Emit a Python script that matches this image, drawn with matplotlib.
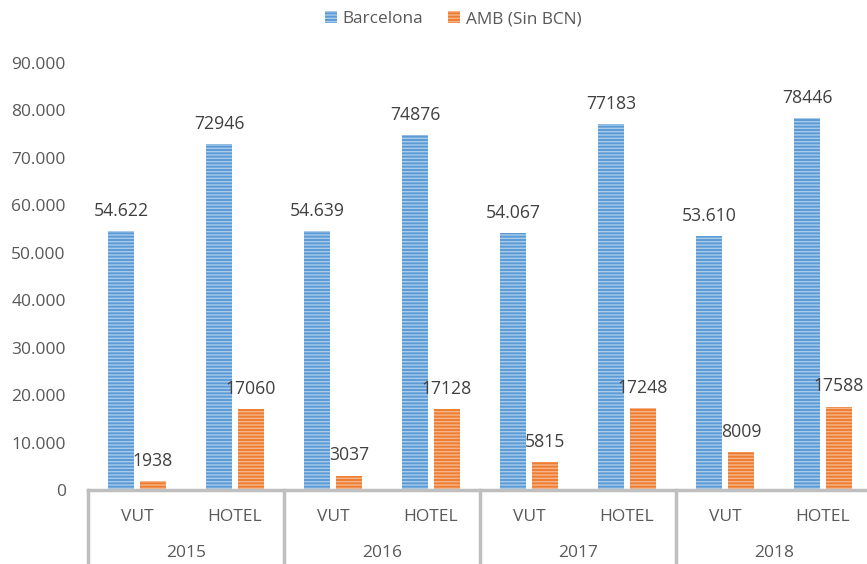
import matplotlib
matplotlib.use("Agg")
import matplotlib.pyplot as plt
from matplotlib.patches import Patch
from matplotlib.ticker import FuncFormatter
import matplotlib.transforms as mtransforms

years = ["2015", "2016", "2017", "2018"]
types = ["VUT", "HOTEL"]
barcelona = [54622, 72946, 54639, 74876, 54067, 77183, 53610, 78446]
amb = [1938, 17060, 3037, 17128, 5815, 17248, 8009, 17588]
barcelona_labels = ["54.622", "72946", "54.639", "74876", "54.067", "77183", "53.610", "78446"]
amb_labels = ["1938", "17060", "3037", "17128", "5815", "17248", "8009", "17588"]
yticks = list(range(0, 90001, 10000))

plt.rcParams['font.family'] = ['Open Sans', 'DejaVu Sans']
plt.rcParams['hatch.linewidth'] = 1.0

W, H = 867, 564
fig = plt.figure(figsize=(W / 100, H / 100), dpi=100)
ax = fig.add_axes([88 / W, 74 / H, 784 / W, 427 / H])

blue, blue_light = "#5b9bd5", "#a9cbeb"
orange, orange_light = "#ed7d31", "#f6b48a"
text_col = "#404040"
axis_col = "#595959"
line_col = "#bfbfbf"

x = list(range(len(barcelona)))
w = 0.265
off = 0.163
ax.bar([i - off for i in x], barcelona, width=w, color=blue, edgecolor=blue_light,
       hatch="-----", linewidth=0)
ax.bar([i + off for i in x], amb, width=w, color=orange, edgecolor=orange_light,
       hatch="-----", linewidth=0)

for i in x:
    ax.annotate(barcelona_labels[i], (i - off, barcelona[i]), xytext=(0, 8),
                textcoords="offset points", ha="center", va="bottom",
                fontsize=12.7, color=text_col)
    ax.annotate(amb_labels[i], (i + off, amb[i]), xytext=(0, 8),
                textcoords="offset points", ha="center", va="bottom",
                fontsize=12.7, color=text_col)

ax.set_xlim(-0.5, 7.5)
ax.set_ylim(0, 90000)
ax.set_yticks(yticks)
ax.yaxis.set_major_formatter(FuncFormatter(lambda v, p: f"{int(v):,}".replace(",", ".")))
ax.tick_params(axis="y", length=0, pad=16, labelsize=12.5, labelcolor=axis_col)
ax.set_xticks([])
for s in ["left", "right", "top"]:
    ax.spines[s].set_visible(False)
ax.spines["bottom"].set_color(line_col)
ax.spines["bottom"].set_linewidth(2.5)

trans = mtransforms.blended_transform_factory(ax.transData, ax.transAxes)
for i in x:
    ax.text(i, -0.063, types[i % 2], transform=trans, ha="center", va="center",
            fontsize=12.5, color=axis_col)
for j, yr in enumerate(years):
    ax.text(2 * j + 0.5, -0.148, yr, transform=trans, ha="center", va="center",
            fontsize=12.5, color=axis_col)
for b in [-0.5, 1.5, 3.5, 5.5, 7.5]:
    ax.plot([b, b], [0, -0.2], transform=trans, color=line_col, linewidth=2.5,
            clip_on=False)

handles = [Patch(facecolor=blue, edgecolor=blue_light, hatch="-----", linewidth=0, label="Barcelona"),
           Patch(facecolor=orange, edgecolor=orange_light, hatch="-----", linewidth=0, label="AMB (Sin BCN)")]
leg = fig.legend(handles=handles, loc="center", bbox_to_anchor=(453 / W, 1 - 19 / H), ncol=2,
                 frameon=False, fontsize=12.4, handlelength=0.7, handleheight=0.7,
                 handletextpad=0.3, columnspacing=1.5)
for t in leg.get_texts():
    t.set_color(axis_col)

fig.savefig("out.png", dpi=100)
